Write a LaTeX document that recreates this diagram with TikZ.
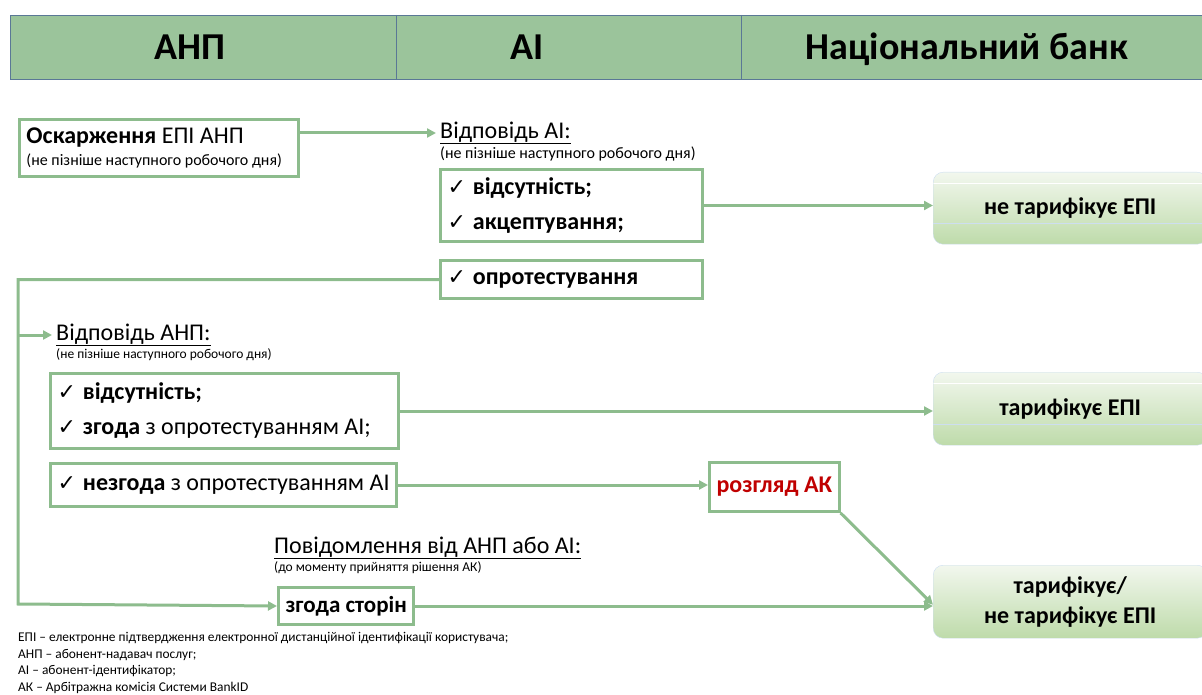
\documentclass[tikz,border=0pt]{standalone}
\usepackage{fontspec}
\setmainfont{Carlito}
\newfontfamily\symfont{DejaVu Sans}
\usepackage{tikz}
\usetikzlibrary{arrows.meta,positioning}
\definecolor{boxgreen}{RGB}{141,188,141}
\definecolor{headgreen}{RGB}{155,196,155}
\definecolor{headline}{RGB}{90,120,150}
\definecolor{akred}{RGB}{192,0,0}
\definecolor{restop}{RGB}{242,247,238}
\definecolor{resbot}{RGB}{190,219,170}
\definecolor{resline}{RGB}{205,222,240}
\newcommand\Fs[2]{\fontsize{#1}{#2}\selectfont}
\newcommand\chk{{\symfont\Fs{22}{24}✓}\hspace{7pt}}

\begin{document}
\begin{tikzpicture}[x=1pt, y=-1pt,
  gbox/.style={draw=boxgreen, line width=3pt, anchor=north west, align=flush left,
    inner xsep=7pt, inner ysep=0pt, font=\Fs{24}{35}},
  result/.style={draw=resline, thin, rounded corners=10pt, top color=restop,
    bottom color=resbot, anchor=north west, minimum width=274pt, align=center,
    font=\Fs{24}{30}\bfseries},
  gloss/.style={path picture={
    \draw[white, line width=0.8pt] ([yshift=-11pt]path picture bounding box.north west)
      -- ([yshift=-11pt]path picture bounding box.north east);
    \draw[resline, line width=0.8pt] ([yshift=21pt]path picture bounding box.south west)
      -- ([yshift=21pt]path picture bounding box.south east);}},
  title/.style={anchor=west, inner xsep=4pt, inner ysep=1pt, font=\Fs{24}{26}},
  note/.style={anchor=north west, inner xsep=4pt, inner ysep=1pt, font=\Fs{16}{18}},
  link/.style={draw=boxgreen, line width=3pt},
  tip/.style={-{Triangle[length=9pt,width=9pt]}}]
\useasboundingbox (0,0) rectangle (1202,695);
\clip (0,0) rectangle (1202,695);

% header
\draw[headline, fill=headgreen] (10,15) rectangle (1220,79);
\draw[headline] (396,15) -- (396,79);
\draw[headline] (741,15) -- (741,79);
\foreach \x/\t [count=\i] in {190/АНП, 527/АІ, 967/Національний банк}
  \node[anchor=base, font=\Fs{38}{40}\bfseries] (head\i) at (\x,60) {\t};

% AI answer
\node[gbox, text width=265pt, minimum height=57pt, font=\Fs{24}{26}] (osk) at (18,118)
  {\textbf{Оскарження} ЕПІ АНП\\[-4pt]{\Fs{16}{18}(не пізніше наступного робочого дня)}};
\node[title] (aititle) at (436,133) {\underline{Відповідь АІ:}};
\node[note] (aisub) at (aititle.south west) {(не пізніше наступного робочого дня)};
\node[gbox, text width=248pt, minimum height=72pt] (acc) at (439,168)
  {\chk\textbf{відсутність;}\\\chk\textbf{акцептування;}};
\node[gbox, text width=248pt, minimum height=38pt] (opr) at (439,259)
  {\chk\textbf{опротестування}};

% ANP answer
\coordinate (lft) at (18,604);
\node[title] (anptitle) at (52,335) {\underline{Відповідь АНП:}};
\node[note, font=\Fs{13.5}{15}] (anpsub) at (anptitle.south west) {(не пізніше наступного робочого дня)};
\node[gbox, text width=334pt, minimum height=75pt] (agr) at (49,372)
  {\chk\textbf{відсутність;}\\\mbox{\chk\textbf{згода} з опротестуванням АІ;}};
\node[gbox, text width=332pt, minimum height=43pt] (dis) at (49,462)
  {\mbox{\chk\textbf{незгода} з опротестуванням АІ}};
\node[gbox, align=center, minimum width=127pt, minimum height=49pt,
  font=\Fs{24}{26}\bfseries\color{akred}] (ak) at (708,461) {розгляд АК};

% notice
\node[title] (ntitle) at (270,548) {\underline{Повідомлення від АНП або АІ:}};
\node[note, font=\Fs{13.5}{15}] (nsub) at (ntitle.south west) {(до моменту прийняття рішення АК)};
\node[gbox, align=center, minimum width=135pt, minimum height=37pt,
  font=\Fs{23}{25}\bfseries] (zg) at (277,586) {згода сторін};

% results
\node[result, gloss, minimum height=72pt] (res1) at (933,172) {не тарифікує ЕПІ};
\node[result, gloss, minimum height=73pt] (res2) at (933,372) {тарифікує ЕПІ};
\node[result, minimum height=73pt] (res3) at (933,565) {тарифікує/\\не тарифікує ЕПІ};

% links
\draw[link, tip] (osk.east |- aititle.west) -- (aititle.west);
\draw[link, tip] (acc.east) -- (acc.east -| res1.west);
\draw[link, tip] (opr.west) -| (lft) -- (zg.west);
\draw[link, tip] (lft |- anptitle.west) -- (anptitle.west);
\draw[link, tip] (agr.east) -- (agr.east -| res2.west);
\draw[link, tip] (dis.east) -- (dis.east -| ak.west);
\draw[link, tip] (ak.south east) -- ([yshift=-3pt]res3.west);
\draw[link, tip] (zg.east) -- (zg.east -| res3.west);

% legend
\node[anchor=north west, inner sep=2pt, align=left, font=\Fs{13.4}{16.7}] (legend) at (16,630)
  {ЕПІ – електронне підтвердження електронної дистанційної ідентифікації користувача;\\
   АНП – абонент-надавач послуг;\\
   АІ – абонент-ідентифікатор;\\
   АК – Арбітражна комісія Системи BankID};
\end{tikzpicture}
\end{document}
